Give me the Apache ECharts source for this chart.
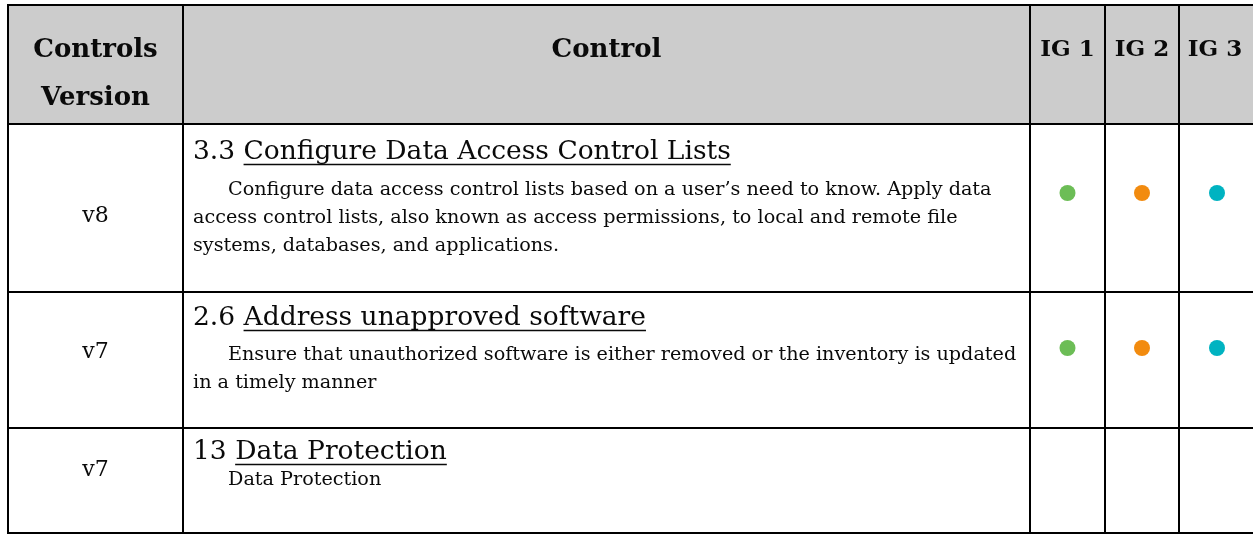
<!DOCTYPE html>
<html>
<head>
<meta charset="utf-8">
<script src="https://cdn.jsdelivr.net/npm/echarts@6/dist/echarts.min.js"></script>
<style>
html,body{margin:0;padding:0;background:#fff;}
#chart{width:1253px;height:535px;}
</style>
</head>
<body>
<div id="chart"></div>
<script>
// ---- DATA ----
const headers = ['Controls\nVersion', 'Control', 'IG 1', 'IG 2', 'IG 3'];
const versions = ['v8', 'v7', 'v7'];
const controlIds = ['3.3', '2.6', '13'];
const controlTitles = ['Configure Data Access Control Lists', 'Address unapproved software', 'Data Protection'];
const controlDescriptions = [
  ['Configure data access control lists based on a user\u2019s need to know. Apply data',
   'access control lists, also known as access permissions, to local and remote file',
   'systems, databases, and applications.'],
  ['Ensure that unauthorized software is either removed or the inventory is updated',
   'in a timely manner'],
  ['Data Protection']
];
const ig1 = [true, true, false];
const ig2 = [true, true, false];
const ig3 = [true, true, false];
const igColors = ['#6cbd56', '#f28b0f', '#00b3c1'];

// ---- LAYOUT (pixel space of a hidden value axis) ----
const W = 1253, H = 535;
const colEdges = [8, 183, 1030, 1105, 1179, 1257];
const rowEdges = [5, 124, 292, 428, 533];
const headerTextY = [50, 98];
const versionY = [216, 352, 470];
const titleY = [152, 318, 452];
const descStartY = [190, 355, 480];
const dotY = [193, 348, 480];
const lineGap = 28;
const textX = 193, indentX = 228;
const FONT_FAMILY = '"DejaVu Serif", "Liberation Serif", serif';
const headerFont = 'bold 26px ' + FONT_FAMILY;
const igFont = 'bold 23px ' + FONT_FAMILY;
const versionFont = '22px ' + FONT_FAMILY;
const titleFont = '26.5px ' + FONT_FAMILY;
const descFont = '19.2px ' + FONT_FAMILY;
const TEXT = '#0a0a0a';

const measureCtx = document.createElement('canvas').getContext('2d');
function textWidth(t, font){ measureCtx.font = font; return measureCtx.measureText(t).width; }

const cells = [];
for (let r = 0; r < rowEdges.length - 1; r++)
  for (let c = 0; c < colEdges.length - 1; c++) cells.push([c, r]);

function renderCell(params, api){
  const c = api.value(0), r = api.value(1);
  const p0 = api.coord([colEdges[c], rowEdges[r]]);
  const p1 = api.coord([colEdges[c+1], rowEdges[r+1]]);
  const children = [];
  if (r === 0) {
    children.push({type:'rect', shape:{x:p0[0], y:p0[1], width:p1[0]-p0[0], height:p1[1]-p0[1]}, style:{fill:'#cccccc'}});
    const lines = headers[c].split('\n');
    const cx = c === 4 ? 1215 : (colEdges[c]+colEdges[c+1])/2;
    lines.forEach((t, i) => {
      const pt = api.coord([cx, headerTextY[i]]);
      children.push({type:'text', style:{text:t, x:pt[0], y:pt[1], font:(c >= 2 ? igFont : headerFont), fill:TEXT, align:'center', verticalAlign:'middle'}});
    });
  } else {
    const row = r - 1;
    if (c === 0) {
      const pt = api.coord([(colEdges[0]+colEdges[1])/2, versionY[row]]);
      children.push({type:'text', style:{text:versions[row], x:pt[0], y:pt[1], font:versionFont, fill:TEXT, align:'center', verticalAlign:'middle'}});
    } else if (c === 1) {
      const pre = controlIds[row] + ' ';
      const pt = api.coord([textX, titleY[row]]);
      const wPre = textWidth(pre, titleFont);
      const wTitle = textWidth(controlTitles[row], titleFont);
      children.push({type:'text', style:{text:pre, x:pt[0], y:pt[1], font:titleFont, fill:TEXT, align:'left', verticalAlign:'middle'}});
      children.push({type:'text', style:{text:controlTitles[row], x:pt[0]+wPre, y:pt[1], font:titleFont, fill:TEXT, align:'left', verticalAlign:'middle'}});
      children.push({type:'line', shape:{x1:pt[0]+wPre, y1:pt[1]+12.5, x2:pt[0]+wPre+wTitle, y2:pt[1]+12.5}, style:{stroke:TEXT, lineWidth:1.5}});
      controlDescriptions[row].forEach((t, i) => {
        const q = api.coord([i === 0 ? indentX : textX, descStartY[row] + i*lineGap]);
        children.push({type:'text', style:{text:t, x:q[0], y:q[1], font:descFont, fill:TEXT, align:'left', verticalAlign:'middle'}});
      });
    } else {
      const flags = [ig1, ig2, ig3][c-2];
      if (flags[row]) {
        const cx = c === 4 ? 1217 : (colEdges[c]+colEdges[c+1])/2;
        const pt = api.coord([cx, dotY[row]]);
        children.push({type:'circle', shape:{cx:pt[0], cy:pt[1], r:8}, style:{fill:igColors[c-2]}});
      }
    }
  }
  return {type:'group', children};
}

function renderGrid(params, api){
  const children = [];
  const yTop = api.coord([0, rowEdges[0]])[1], yBot = api.coord([0, rowEdges[rowEdges.length-1]])[1];
  colEdges.forEach(x => {
    const px = api.coord([x, 0])[0];
    children.push({type:'line', shape:{x1:px, y1:yTop-1, x2:px, y2:yBot+1}, style:{stroke:'#000', lineWidth:2}});
  });
  const xL = api.coord([colEdges[0], 0])[0], xR = api.coord([colEdges[colEdges.length-1], 0])[0];
  rowEdges.forEach(y => {
    const py = api.coord([0, y])[1];
    children.push({type:'line', shape:{x1:xL-1, y1:py, x2:xR+1, y2:py}, style:{stroke:'#000', lineWidth:2}});
  });
  return {type:'group', children};
}

const chart = echarts.init(document.getElementById('chart'), null, {renderer:'canvas'});
chart.setOption({
  animation:false,
  backgroundColor:'#ffffff',
  grid:{left:0, right:0, top:0, bottom:0},
  xAxis:{type:'value', min:0, max:W, show:false},
  yAxis:{type:'value', min:0, max:H, inverse:true, show:false},
  series:[
    {type:'custom', renderItem:renderCell, data:cells, silent:true, clip:false, z:1},
    {type:'custom', renderItem:renderGrid, data:[[0,0]], silent:true, clip:false, z:2}
  ]
});
</script>
</body>
</html>
